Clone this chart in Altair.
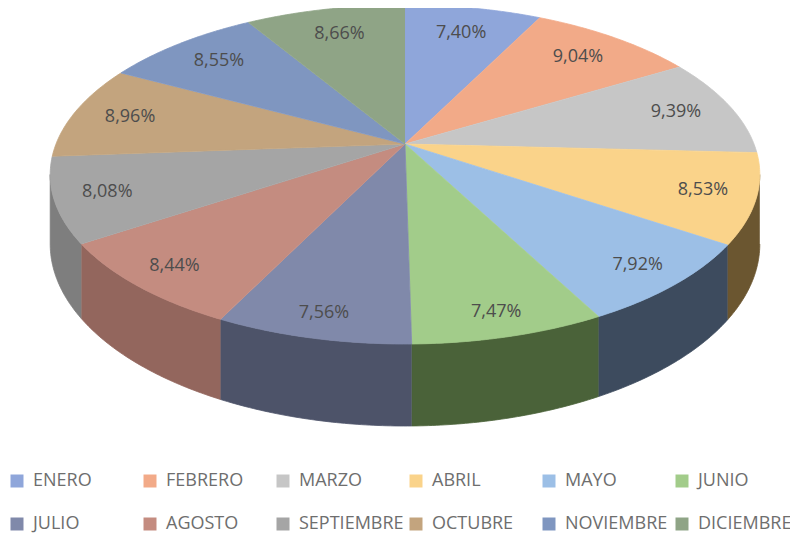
import altair as alt
import pandas as pd

# ---- data ----
months = ["ENERO", "FEBRERO", "MARZO", "ABRIL", "MAYO", "JUNIO",
          "JULIO", "AGOSTO", "SEPTIEMBRE", "OCTUBRE", "NOVIEMBRE", "DICIEMBRE"]
shares = [7.40, 9.04, 9.39, 8.53, 7.92, 7.47, 7.56, 8.44, 8.08, 8.96, 8.55, 8.66]

# ---- styles ----
top_colors = ["#8FA6DA", "#F2AA88", "#C6C6C6", "#FAD38A", "#9CBFE6", "#A2CC8A",
              "#8089AA", "#C48C80", "#A5A5A5", "#C3A47E", "#7F96C0", "#8FA486"]
side_colors = ["#4A5A80", "#8A5E4A", "#6E6E6E", "#6B5630", "#3D4B5E", "#4A6239",
               "#4D5369", "#93665D", "#7E7E7E", "#6E5C45", "#43506B", "#4F5C48"]

df = pd.DataFrame({"month": months, "value": shares, "order": list(range(len(months)))})

N = 48      # points per arc
Q = 0.18    # perspective strength
H = 0.41    # thickness of the pie (in y units)
QL = 0.25   # label perspective
RL = 0.84   # label radius

W, HT = 782, 525
xs = alt.Scale(domain=[-397 / 349, (W - 397) / 349], nice=False, zero=False)
ys = alt.Scale(domain=[(136 - HT) / 164, 136 / 164], nice=False, zero=False)
top_scale = alt.Scale(domain=months, range=top_colors)
side_scale = alt.Scale(domain=months, range=side_colors)

base = (
    alt.Chart(df)
    .transform_joinaggregate(total="sum(value)")
    .transform_window(cum="sum(value)", sort=[alt.SortField("order")], frame=[None, 0])
    .transform_calculate(a0="2*PI*(datum.cum - datum.value)/datum.total")
    .transform_calculate(a1="2*PI*datum.cum/datum.total")
)

X = alt.X("u:Q", scale=xs, axis=None)
Y = alt.Y("v:Q", scale=ys, axis=None)

# side walls (front half only)
side = (
    base.transform_calculate(b0=f"max(datum.a0, acos(-{Q}))")
    .transform_calculate(b1=f"min(datum.a1, 2*PI - acos(-{Q}))")
    .transform_filter("datum.b1 > datum.b0")
    .transform_calculate(pts=f"sequence(0, {2 * N + 2})")
    .transform_flatten(["pts"], as_=["k"])
    .transform_calculate(j=f"datum.k <= {N} ? datum.k : {2 * N + 1} - datum.k")
    .transform_calculate(a=f"datum.b0 + datum.j/{N}*(datum.b1 - datum.b0)")
    .transform_calculate(D=f"1 + {Q}*cos(datum.a)")
    .transform_calculate(u="sin(datum.a)/datum.D")
    .transform_calculate(v=f"(cos(datum.a) - (datum.k > {N} ? {H} : 0))/datum.D")
    .mark_line(filled=True, strokeWidth=0.8)
    .encode(
        x=X, y=Y, order=alt.Order("k:Q"),
        fill=alt.Fill("month:N", scale=side_scale, legend=None),
        stroke=alt.Stroke("month:N", scale=side_scale, legend=None),
    )
)

# top faces
top = (
    base.transform_calculate(pts=f"sequence(-1, {N + 1})")
    .transform_flatten(["pts"], as_=["k"])
    .transform_calculate(r="datum.k < 0 ? 0 : 1")
    .transform_calculate(a=f"datum.a0 + max(datum.k, 0)/{N}*(datum.a1 - datum.a0)")
    .transform_calculate(D=f"1 + {Q}*datum.r*cos(datum.a)")
    .transform_calculate(u="datum.r*sin(datum.a)/datum.D")
    .transform_calculate(v="datum.r*cos(datum.a)/datum.D")
    .mark_line(filled=True, strokeWidth=0.8)
    .encode(
        x=X, y=Y, order=alt.Order("k:Q"),
        fill=alt.Fill(
            "month:N", scale=top_scale,
            legend=alt.Legend(
                orient="none", legendX=0, legendY=464, direction="horizontal",
                columns=6, title=None, symbolType="square", symbolSize=169,
                symbolStrokeWidth=0, labelFont="Open Sans", labelFontSize=18,
                labelColor="#6e6e6e", labelOffset=7, columnPadding=3,
                rowPadding=25, gridAlign="all", padding=0, labelLimit=250,
            ),
        ),
        stroke=alt.Stroke("month:N", scale=top_scale, legend=None),
    )
)

labels = (
    base.transform_calculate(am="(datum.a0 + datum.a1)/2")
    .transform_calculate(DL=f"1 + {QL}*{RL}*cos(datum.am)")
    .transform_calculate(u=f"{RL}*sin(datum.am)/datum.DL")
    .transform_calculate(v=f"{RL}*cos(datum.am)/datum.DL")
    .transform_calculate(lbl="replace(format(datum.value, '.2f'), '.', ',') + '%'")
    .mark_text(font="Open Sans", fontSize=18, color="#4d4d4d")
    .encode(x=X, y=Y, text="lbl:N")
)

chart = (
    alt.layer(side, top, labels)
    .resolve_scale(fill="independent", stroke="independent")
    .properties(width=W, height=HT, autosize=alt.AutoSizeParams(type="none"), padding=0)
    .configure_view(stroke=None)
)

chart.save("out.html", embed_options={"renderer": "svg", "actions": False})
